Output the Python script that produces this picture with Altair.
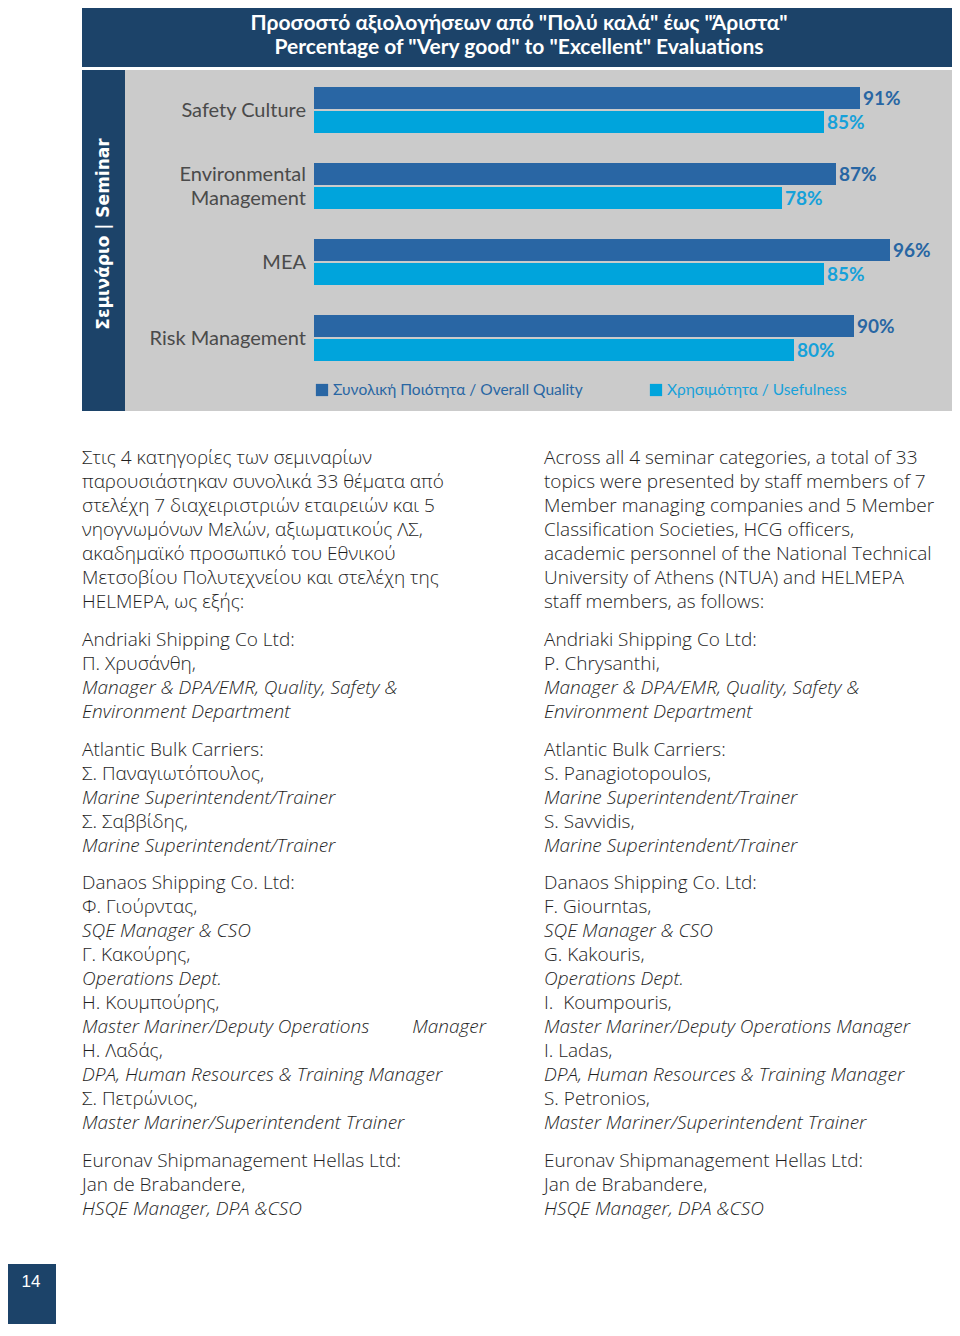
import altair as alt
import pandas as pd

# ---------------- data ----------------
categories = ["Safety Culture", "Environmental Management", "MEA", "Risk Management"]
cat_labels = [["Safety Culture"], ["Environmental", "Management"], ["MEA"], ["Risk Management"]]
series = ["Συνολική Ποιότητα / Overall Quality", "Χρησιμότητα / Usefulness"]
overall = [91, 87, 96, 90]
usefulness = [85, 78, 85, 80]

title_lines = ['Προσοστό αξιολογήσεων από "Πολύ καλά" έως "Άριστα"',
               'Percentage of "Very good" to "Excellent" Evaluations']
side_label = "Σεμινάριο | Seminar"
page_number = "14"

left_paras = [
    [("Στις 4 κατηγορίες των σεμιναρίων", 0),
     ("παρουσιάστηκαν συνολικά 33 θέματα από", 0),
     ("στελέχη 7 διαχειριστριών εταιρειών και 5", 0),
     ("νηογνωμόνων Μελών, αξιωματικούς ΛΣ,", 0),
     ("ακαδημαϊκό προσωπικό του Εθνικού", 0),
     ("Μετσοβίου Πολυτεχνείου και στελέχη της", 0),
     ("HELMEPA, ως εξής:", 0)],
    [("Andriaki Shipping Co Ltd:", 0),
     ("Π. Χρυσάνθη,", 0),
     ("Manager & DPA/EMR, Quality, Safety &", 1),
     ("Environment Department", 1)],
    [("Atlantic Bulk Carriers:", 0),
     ("Σ. Παναγιωτόπουλος,", 0),
     ("Marine Superintendent/Trainer", 1),
     ("Σ. Σαββίδης,", 0),
     ("Marine Superintendent/Trainer", 1)],
    [("Danaos Shipping Co. Ltd:", 0),
     ("Φ. Γιούρντας,", 0),
     ("SQE Manager & CSO", 1),
     ("Γ. Κακούρης,", 0),
     ("Operations Dept.", 1),
     ("Η. Κουμπούρης,", 0),
     ("Master Mariner/Deputy Operations\u2003\u2003 Manager", 1),
     ("Η. Λαδάς,", 0),
     ("DPA, Human Resources & Training Manager", 1),
     ("Σ. Πετρώνιος,", 0),
     ("Master Mariner/Superintendent Trainer", 1)],
    [("Euronav Shipmanagement Hellas Ltd:", 0),
     ("Jan de Brabandere,", 0),
     ("HSQE Manager, DPA &CSO", 1)],
]
right_paras = [
    [("Across all 4 seminar categories, a total of 33", 0),
     ("topics were presented by staff members of 7", 0),
     ("Member managing companies and 5 Member", 0),
     ("Classification Societies, HCG officers,", 0),
     ("academic personnel of the National Technical", 0),
     ("University of Athens (NTUA) and HELMEPA", 0),
     ("staff members, as follows:", 0)],
    [("Andriaki Shipping Co Ltd:", 0),
     ("P. Chrysanthi,", 0),
     ("Manager & DPA/EMR, Quality, Safety &", 1),
     ("Environment Department", 1)],
    [("Atlantic Bulk Carriers:", 0),
     ("S. Panagiotopoulos,", 0),
     ("Marine Superintendent/Trainer", 1),
     ("S. Savvidis,", 0),
     ("Marine Superintendent/Trainer", 1)],
    [("Danaos Shipping Co. Ltd:", 0),
     ("F. Giourntas,", 0),
     ("SQE Manager & CSO", 1),
     ("G. Kakouris,", 0),
     ("Operations Dept.", 1),
     ("I.\u00a0 Koumpouris,", 0),
     ("Master Mariner/Deputy Operations Manager", 1),
     ("I. Ladas,", 0),
     ("DPA, Human Resources & Training Manager", 1),
     ("S. Petronios,", 0),
     ("Master Mariner/Superintendent Trainer", 1)],
    [("Euronav Shipmanagement Hellas Ltd:", 0),
     ("Jan de Brabandere,", 0),
     ("HSQE Manager, DPA &CSO", 1)],
]

# ---------------- styles ----------------
NAVY = "#1c4369"
GRAY = "#cbcbcb"
DARK = "#2966a4"
LIGHT = "#00a4dc"
DARK_TXT = "#2866a3"
LIGHT_TXT = "#16a1da"
LABEL = "#4a4a4a"
BODY = "#1e1e1e"
FONT = "Lato"
BODY_FONT = "Open Sans"

# ---------------- tables ----------------
bars = pd.DataFrame({
    "cat": categories * 2,
    "series": [series[0]] * 4 + [series[1]] * 4,
    "value": overall + usefulness,
})
bars["label"] = bars["value"].astype(str) + "%"
cats_df = pd.DataFrame({"cat": categories, "lines": cat_labels,
                        "nlines": [len(c) for c in cat_labels]})
legend_df = pd.DataFrame({"series": series})

rows = []
for col, paras in (("L", left_paras), ("R", right_paras)):
    r = 0
    for p, para in enumerate(paras):
        for txt, it in para:
            rows.append({"col": col, "row": r, "para": p, "text": txt, "italic": it})
            r += 1
body = pd.DataFrame(rows)

one = pd.DataFrame({"a": [0]})

# ---------------- scales ----------------
xs = alt.Scale(domain=[0, 100], range=[306, 906])
ys = alt.Scale(type="band", domain=categories, range=[79, 353], paddingInner=0.395, paddingOuter=0)
yo = alt.Scale(type="band", domain=series, paddingInner=0.09)

def rect(x, x2, y, y2, color):
    return alt.Chart(one).mark_rect(color=color).encode(
        x=alt.value(x), x2=alt.value(x2), y=alt.value(y), y2=alt.value(y2))

title_band = rect(74, 944, 0, 59, NAVY)
panel = rect(74, 944, 62, 403, GRAY)
strip = rect(74, 117, 62, 403, NAVY)
pagebox = rect(0, 48, 1256, 1330, NAVY)

title_txt = alt.Chart(one).mark_text(
    text=title_lines, font=FONT, fontSize=21, fontWeight="bold", color="white",
    align="center", baseline="middle", lineHeight=24
).encode(x=alt.value(511), y=alt.value(16))

side_txt = alt.Chart(one).mark_text(
    text=side_label, font="DejaVu Sans", fontSize=17, fontWeight="bold", color="white",
    angle=270, align="center", baseline="middle"
).encode(x=alt.value(96), y=alt.value(226))

page_txt = alt.Chart(one).mark_text(
    text=page_number, font="Liberation Sans", fontSize=17, color="white",
    align="center", baseline="middle"
).encode(x=alt.value(23), y=alt.value(1274))

bar_layer = alt.Chart(bars).mark_bar().encode(
    x=alt.X("value:Q", scale=xs, axis=None),
    y=alt.Y("cat:N", scale=ys, axis=None),
    yOffset=alt.YOffset("series:N", scale=yo),
    color=alt.Color("series:N", scale=alt.Scale(domain=series, range=[DARK, LIGHT]), legend=None),
)

val_layer = alt.Chart(bars).mark_text(
    font=FONT, fontSize=19, fontWeight="bold", align="left", baseline="middle", dx=3, dy=1
).encode(
    x=alt.X("value:Q", scale=xs, axis=None),
    y=alt.Y("cat:N", scale=ys, axis=None),
    yOffset=alt.YOffset("series:N", scale=yo),
    text="label:N",
    color=alt.Color("series:N", scale=alt.Scale(domain=series, range=[DARK_TXT, LIGHT_TXT]), legend=None),
)

def cat_layer(n):
    return alt.Chart(cats_df).transform_filter(alt.datum.nlines == n).mark_text(
        font=FONT, fontSize=20, color=LABEL, align="right", baseline="middle",
        lineHeight=24, dy=1 - 12 * (n - 1)
    ).encode(
        x=alt.value(298),
        y=alt.Y("cat:N", scale=ys, axis=None),
        text="lines",
    )

ls = alt.Scale(type="point", domain=series, range=[314, 648], padding=0)
leg_sq = alt.Chart(legend_df).mark_square(size=150, opacity=1).encode(
    x=alt.X("series:N", scale=ls, axis=None),
    y=alt.value(382),
    color=alt.Color("series:N", scale=alt.Scale(domain=series, range=[DARK, LIGHT]), legend=None),
)
leg_txt = alt.Chart(legend_df).mark_text(
    font=FONT, fontSize=15.5, align="left", baseline="middle", dx=11
).encode(
    x=alt.X("series:N", scale=ls, axis=None),
    y=alt.value(382),
    text="series:N",
    color=alt.Color("series:N", scale=alt.Scale(domain=series, range=[DARK_TXT, LIGHT_TXT]), legend=None),
)

bx = alt.Scale(type="point", domain=["L", "R"], range=[74, 536], padding=0)
by = alt.Scale(domain=[0, 30], range=[450, 450 + 30 * 24])

def body_layer(italic):
    return alt.Chart(body).transform_filter(
        alt.datum.italic == italic
    ).transform_calculate(
        slot="datum.row + datum.para * 0.575"
    ).mark_text(
        font=BODY_FONT, fontSize=19, color=BODY, align="left", baseline="middle",
        fontStyle="italic" if italic else "normal", fontWeight=300
    ).encode(
        x=alt.X("col:N", scale=bx, axis=None),
        y=alt.Y("slot:Q", scale=by, axis=None),
        text="text:N",
    )

chart = alt.layer(
    title_band, panel, strip, pagebox,
    bar_layer, val_layer, cat_layer(1), cat_layer(2), leg_sq, leg_txt,
    title_txt, side_txt, page_txt,
    body_layer(0), body_layer(1),
).resolve_scale(
    x="independent", y="independent", color="independent", yOffset="independent"
).properties(
    width=944, height=1316, padding=0,
    autosize=alt.AutoSizeParams(type="none"),
    background="white",
).configure_view(stroke=None)

chart.save("out.html", embed_options={"renderer": "svg", "actions": False})
